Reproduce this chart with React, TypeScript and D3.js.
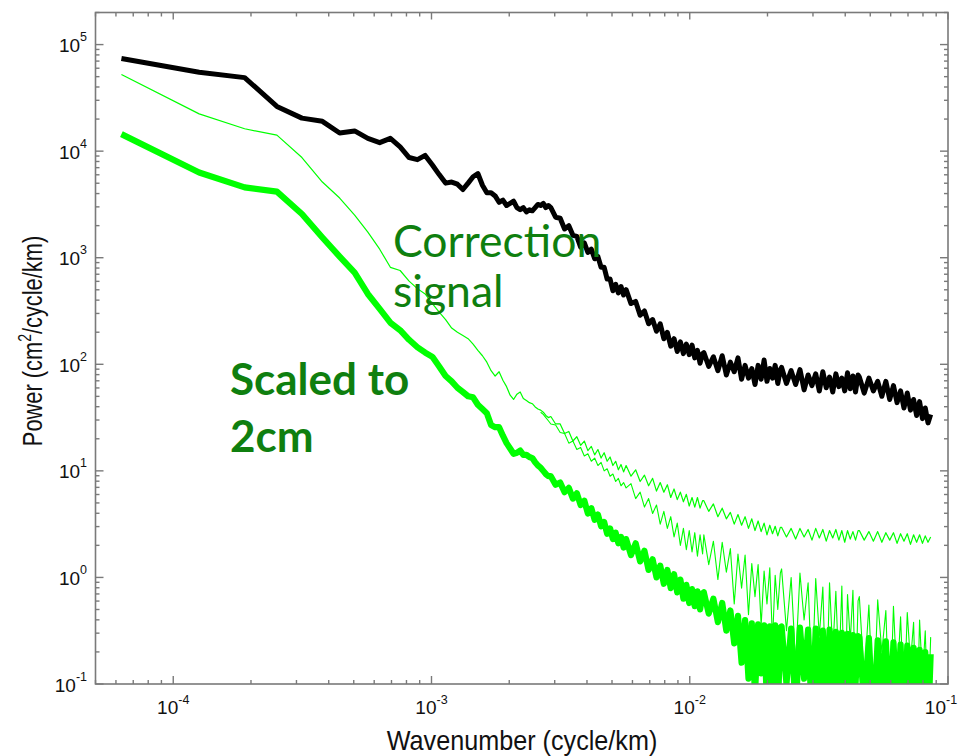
import React from 'react';
import * as d3 from 'd3';

// frequency bin width of the periodogram (cycle/km)
const DK = 6.3e-5;

const binsLow = [
  1, 2, 3, 4, 5, 6, 7, 8, 9, 10, 11, 12, 13, 14, 15, 16, 17, 18, 19, 20,
  21, 22, 23, 24, 25, 26, 27, 28, 29, 30, 31, 32, 33, 34, 35, 36, 37, 38, 39, 40,
  41, 42, 43, 44, 45,
];
const binsHigh = [
  46, 48, 50, 52, 54, 56, 58, 60, 62, 64, 66, 68, 70, 72, 74, 76, 78, 80, 82, 84, 86, 88,
  90, 94, 98, 102, 106, 110, 114, 118, 122, 126, 130, 134, 138, 142, 146, 150, 154, 158, 162, 166, 170, 174, 178,
  180, 188, 196, 204, 212, 220, 228, 236, 244, 252, 260, 268, 276, 284, 292, 300, 308, 316, 324, 332, 340, 348, 356,
  360, 376, 392, 408, 424, 440, 456, 472, 488, 504, 520, 536, 552, 568, 584, 600, 616, 632, 648, 664, 680, 696, 712,
  720, 752, 784, 816, 848, 880, 912, 944, 976, 1008, 1040, 1072, 1104, 1136, 1168, 1200, 1232, 1264, 1296, 1328, 1360,
];
const bins = [...binsLow, ...binsHigh];
const binsLower = [42, 43, 44, 45, ...binsHigh];

// log10 of power (cm^2/cycle/km)
const altimeterLog = [
  4.87, 4.74, 4.69, 4.42, 4.31, 4.28, 4.17, 4.19, 4.12, 4.08,
  4.12, 4.04, 3.94, 3.92, 3.96, 3.87, 3.78, 3.70, 3.71, 3.69,
  3.64, 3.70, 3.76, 3.79, 3.68, 3.61, 3.61, 3.58, 3.52, 3.54,
  3.49, 3.51, 3.53, 3.47, 3.45, 3.47, 3.43, 3.45, 3.44, 3.47, 3.50, 3.49, 3.51, 3.47, 3.49,
  3.47, 3.38, 3.37, 3.27, 3.30, 3.21, 3.20, 3.10, 3.14, 3.05, 3.08, 2.99, 3.01, 2.91, 2.91, 2.80, 2.80, 2.69, 2.75, 2.67, 2.73, 2.65,
  2.70, 2.57, 2.59, 2.46, 2.50, 2.38, 2.42, 2.31, 2.38, 2.24, 2.30, 2.17, 2.24, 2.12, 2.21, 2.10, 2.19, 2.09, 2.18, 2.06, 2.13, 2.01, 2.10,
  2.11, 1.98, 2.07, 1.94, 2.08, 1.90, 2.02, 1.93, 2.06, 1.86, 1.99, 1.87, 1.96, 1.81, 1.99, 1.86, 2.04, 1.84, 1.96, 1.87, 1.99, 1.82, 1.95,
  1.97, 1.82, 1.94, 1.81, 1.95, 1.76, 1.90, 1.80, 1.91, 1.75, 1.93, 1.78, 1.88, 1.74, 1.91, 1.79, 1.87, 1.75, 1.92, 1.77, 1.89, 1.74, 1.90,
  1.88, 1.73, 1.87, 1.75, 1.84, 1.70, 1.84, 1.67, 1.80, 1.64, 1.75, 1.59, 1.73, 1.57, 1.67, 1.52, 1.65, 1.49, 1.59, 1.45, 1.53,
];

const correctionLog = [
  4.72, 4.35, 4.21, 4.15, 3.94, 3.71, 3.56, 3.40, 3.24, 3.08,
  2.91, 2.88, 2.78, 2.71, 2.66, 2.57, 2.49, 2.42, 2.34, 2.30,
  2.27, 2.24, 2.19, 2.13, 2.08, 2.02, 1.94, 1.89, 1.93, 1.85,
  1.79, 1.71, 1.67, 1.72, 1.74, 1.68, 1.66, 1.64, 1.63, 1.60, 1.58, 1.57, 1.55, 1.52, 1.50,
  1.51, 1.44, 1.44, 1.35, 1.37, 1.28, 1.32, 1.24, 1.28, 1.19, 1.23, 1.15, 1.20, 1.12, 1.17, 1.09, 1.13, 1.05, 1.09, 1.01, 1.06, 0.99,
  1.05, 0.95, 1.01, 0.90, 0.96, 0.86, 0.93, 0.81, 0.89, 0.80, 0.87, 0.75, 0.83, 0.73, 0.80, 0.71, 0.78, 0.67, 0.75, 0.66, 0.75, 0.65, 0.72,
  0.72, 0.62, 0.69, 0.57, 0.65, 0.55, 0.61, 0.50, 0.59, 0.49, 0.57, 0.46, 0.55, 0.44, 0.53, 0.43, 0.51, 0.40, 0.49, 0.41, 0.48, 0.39, 0.47,
  0.47, 0.38, 0.46, 0.36, 0.46, 0.38, 0.45, 0.35, 0.46, 0.37, 0.45, 0.34, 0.44, 0.37, 0.45, 0.35, 0.44, 0.33, 0.44, 0.36, 0.43, 0.35, 0.44,
  0.44, 0.35, 0.43, 0.34, 0.43, 0.33, 0.42, 0.35, 0.42, 0.32, 0.41, 0.34, 0.41, 0.31, 0.40, 0.33, 0.40, 0.32, 0.39, 0.33, 0.38,
];

const correctionLowerLog = [
  1.55, 1.53, 1.50, 1.47,
  1.44, 1.43, 1.36, 1.35, 1.26, 1.28, 1.20, 1.22, 1.14, 1.16, 1.09, 1.12, 1.05, 1.08, 1.00, 1.02, 0.95, 0.97, 0.90, 0.93, 0.86, 0.89,
  0.84, 0.88, 0.74, 0.80, 0.66, 0.74, 0.60, 0.68, 0.50, 0.62, 0.46, 0.57, 0.38, 0.51, 0.30, 0.46, 0.26, 0.44, 0.24, 0.42, 0.20, 0.40, 0.22,
  0.40, 0.12, 0.34, -0.02, 0.33, 0.05, 0.27, -0.25, 0.22, -0.10, 0.21, -0.35, 0.13, -0.18, 0.12, -0.45, 0.06, -0.25, 0.09, -0.60, 0.02, -0.30, 0.04,
  0.08, -0.50, 0.00, -0.80, 0.04, -0.40, -0.05, -1.00, -0.01, -0.55, -0.09, -1.20, -0.05, -0.70, -0.13, -0.90, -0.08, -1.30, -0.16, -0.60, -0.12, -1.10, -0.22,
  -0.18, -0.95, -0.26, -1.30, -0.21, -0.70, -0.31, -1.40, -0.27, -1.00, -0.37, -1.20, -0.33, -0.80, -0.42, -1.50, -0.40, -0.95, -0.50, -1.35, -0.56,
];

const scaledLog = [
  4.16, 3.80, 3.66, 3.62, 3.41, 3.19, 3.01, 2.86, 2.66, 2.52,
  2.39, 2.32, 2.23, 2.16, 2.11, 2.07, 1.98, 1.89, 1.84, 1.78,
  1.74, 1.70, 1.69, 1.62, 1.58, 1.54, 1.43, 1.41, 1.41, 1.33,
  1.26, 1.21, 1.16, 1.17, 1.19, 1.15, 1.15, 1.13, 1.12, 1.08, 1.05, 1.03, 1.00, 0.97, 0.95,
  0.95, 0.87, 0.89, 0.80, 0.84, 0.74, 0.79, 0.68, 0.72, 0.60, 0.65, 0.54, 0.59, 0.48, 0.52, 0.41, 0.46, 0.36, 0.42, 0.32, 0.38, 0.28,
  0.36, 0.21, 0.32, 0.15, 0.25, 0.07, 0.17, 0.00, 0.11, -0.06, 0.07, -0.10, 0.03, -0.14, -0.02, -0.20, -0.07, -0.24, -0.11, -0.27, -0.13, -0.30, -0.15,
  -0.14, -0.34, -0.20, -0.42, -0.24, -0.50, -0.31, -0.62, -0.36, -0.80, -0.40, -0.95, -0.43, -1.10, -0.44, -0.90, -0.45, -1.20, -0.46, -1.05, -0.45, -1.30, -0.47,
  -0.46, -1.00, -0.48, -1.25, -0.47, -0.95, -0.49, -1.35, -0.48, -1.10, -0.50, -1.40, -0.49, -1.05, -0.51, -1.30, -0.52, -1.15, -0.53, -1.45, -0.54, -1.00, -0.55,
  -0.56, -1.20, -0.57, -1.40, -0.59, -1.10, -0.60, -1.35, -0.61, -1.25, -0.63, -1.50, -0.64, -1.15, -0.66, -1.40, -0.68, -1.30, -0.70, -1.45, -0.72,
];

const xTickExps = [-4, -3, -2, -1];
const yTickExps = [-1, 0, 1, 2, 3, 4, 5];
const minorMultiples = [2, 3, 4, 5, 6, 7, 8, 9];
const decadeExps = [-6, -5, -4, -3, -2, -1, 0, 1, 2, 3, 4, 5];

const AXIS = '#7a7a7a';
const GREEN = '#00ff00';
const TEXT_GREEN = '#0f7f0f';
const LABEL_FONT = '"Liberation Sans", Arial, Helvetica, sans-serif';

export default function App() {
  const x = d3.scaleLog().domain([5e-5, 0.1]).range([95.5, 948]);
  const y = d3.scaleLog().domain([0.1, 2e5]).range([684, 12.5]);
  const [xl, xr] = x.range();
  const [yb, yt] = y.range();

  const pts = (b: number[], logs: number[]) =>
    b.map((n, i) => [n * DK, Math.pow(10, logs[i])] as [number, number]);
  const line = d3
    .line<[number, number]>()
    .x((d) => x(d[0]))
    .y((d) => y(d[1]));

  const inX = (v: number) => v >= 5e-5 * 0.999 && v <= 0.1 * 1.001;
  const inY = (v: number) => v >= 0.1 * 0.999 && v <= 2e5 * 1.001;
  const xMinor = decadeExps
    .flatMap((e) => minorMultiples.map((m) => m * Math.pow(10, e)))
    .filter(inX);
  const yMinor = decadeExps
    .flatMap((e) => minorMultiples.map((m) => m * Math.pow(10, e)))
    .filter(inY);

  const MAJ = 8;
  const MIN = 4;

  return (
    <svg
      width={959}
      height={756}
      style={{ position: 'absolute', left: 0, top: 0, background: '#fff' }}
    >
      <defs>
        <clipPath id="plotClip">
          <rect x={xl} y={yt} width={xr - xl} height={yb - yt} />
        </clipPath>
      </defs>

      <g clipPath="url(#plotClip)" fill="none" strokeLinejoin="round">
        <path d={line(pts(bins, scaledLog)) || ''} stroke={GREEN} strokeWidth={6.2} />
        <path d={line(pts(binsLower, correctionLowerLog)) || ''} stroke={GREEN} strokeWidth={1.1} />
        <path d={line(pts(bins, correctionLog)) || ''} stroke={GREEN} strokeWidth={1.2} />
        <path d={line(pts(bins, altimeterLog)) || ''} stroke="#000" strokeWidth={5} />
      </g>

      {/* frame */}
      <rect x={xl} y={yt} width={xr - xl} height={yb - yt} fill="none" stroke={AXIS} strokeWidth={1.6} />

      {/* ticks on all four sides */}
      <g stroke={AXIS} strokeWidth={1.4}>
        {xTickExps.map((e) => {
          const px = x(Math.pow(10, e));
          return (
            <g key={'xM' + e}>
              <line x1={px} x2={px} y1={yb} y2={yb - MAJ} />
              <line x1={px} x2={px} y1={yt} y2={yt + MAJ - 1} />
            </g>
          );
        })}
        {xMinor.map((v, i) => {
          const px = x(v);
          return (
            <g key={'xm' + i}>
              <line x1={px} x2={px} y1={yb} y2={yb - MIN} />
              <line x1={px} x2={px} y1={yt} y2={yt + MIN} />
            </g>
          );
        })}
        {yTickExps.map((e) => {
          const py = y(Math.pow(10, e));
          return (
            <g key={'yM' + e}>
              <line x1={xl} x2={xl + MAJ} y1={py} y2={py} />
              <line x1={xr} x2={xr - MAJ} y1={py} y2={py} />
            </g>
          );
        })}
        {yMinor.map((v, i) => {
          const py = y(v);
          return (
            <g key={'ym' + i}>
              <line x1={xl} x2={xl + MIN} y1={py} y2={py} />
              <line x1={xr} x2={xr - MIN} y1={py} y2={py} />
            </g>
          );
        })}
      </g>

      {/* tick labels */}
      <g fontFamily={LABEL_FONT} fill="#111">
        {xTickExps.map((e, i) => (
          <text
            key={'xl' + e}
            x={x(Math.pow(10, e)) - (i === xTickExps.length - 1 ? 7 : 0)}
            y={714}
            textAnchor="middle"
            fontSize={19}
          >
            10
            <tspan dy={-10} fontSize={12.5}>
              {'-' + Math.abs(e)}
            </tspan>
          </text>
        ))}
        {yTickExps.map((e) => (
          <text key={'yl' + e} x={87} y={y(Math.pow(10, e)) + 7.5} textAnchor="end" fontSize={19}>
            10
            <tspan dy={-11} fontSize={12.5}>
              {e < 0 ? '-' + Math.abs(e) : String(e)}
            </tspan>
          </text>
        ))}
      </g>

      {/* axis titles */}
      <text
        transform="translate(522,750) scale(0.9,1)"
        textAnchor="middle"
        fontFamily={LABEL_FONT}
        fontSize={28}
        fill="#111"
      >
        Wavenumber (cycle/km)
      </text>
      <text
        transform="translate(42,341) rotate(-90) scale(0.78,1)"
        textAnchor="middle"
        fontFamily={LABEL_FONT}
        fontSize={28}
        fill="#111"
      >
        Power (cm
        <tspan dy={-11} fontSize={18}>
          2
        </tspan>
        <tspan dy={11}>/cycle/km)</tspan>
      </text>

      {/* annotations */}
      <g fontFamily="Lato, 'Open Sans', sans-serif" fill={TEXT_GREEN}>
        <text x={393} y={257} fontSize={44.5}>
          Correction
        </text>
        <text x={393} y={307} fontSize={44.5}>
          signal
        </text>
        <text x={230} y={395} fontSize={44} fontWeight="bold">
          Scaled to
        </text>
        <text x={230} y={452} fontSize={44} fontWeight="bold">
          2cm
        </text>
      </g>
    </svg>
  );
}
